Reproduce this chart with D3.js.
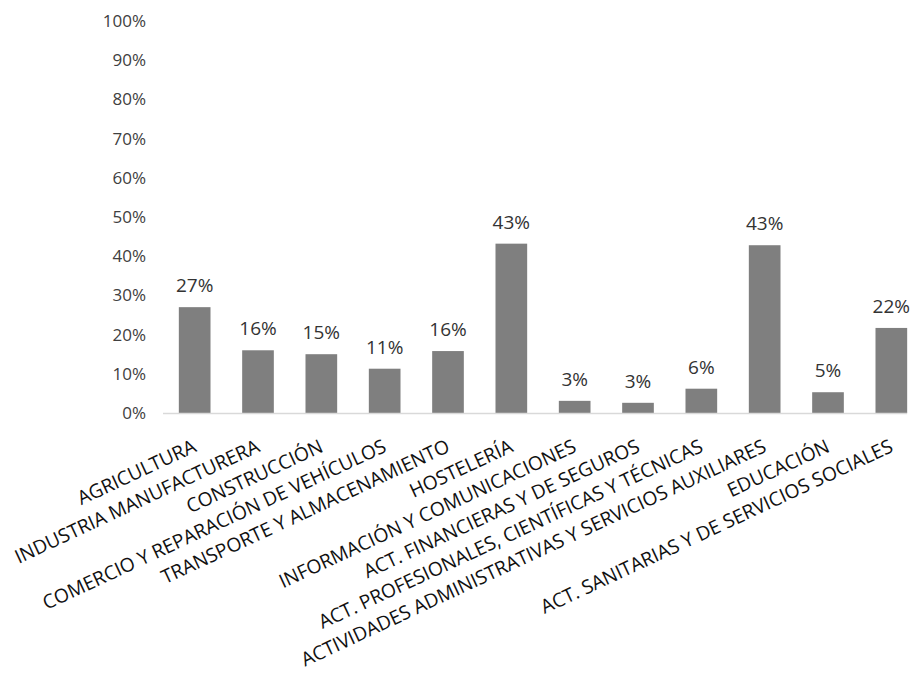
<!DOCTYPE html>
<html lang="es">
<head>
    <meta charset="utf-8"/>
    <title>Sectores</title>
    <script src="https://d3js.org/d3.v7.min.js"></script>
    <style>
        body { margin: 0; background: #fff; }
        text { font-family: 'Open Sans', sans-serif; }
    </style>
</head>
<body>
<script>

    var sectores = ['AGRICULTURA', 'INDUSTRIA MANUFACTURERA', 'CONSTRUCCIÓN',
                    'COMERCIO Y REPARACIÓN DE VEHÍCULOS', 'TRANSPORTE Y ALMACENAMIENTO',
                    'HOSTELERÍA', 'INFORMACIÓN Y COMUNICACIONES', 'ACT. FINANCIERAS Y DE SEGUROS',
                    'ACT. PROFESIONALES, CIENTÍFICAS Y TÉCNICAS',
                    'ACTIVIDADES ADMINISTRATIVAS Y SERVICIOS AUXILIARES',
                    'EDUCACIÓN', 'ACT. SANITARIAS Y DE SERVICIOS SOCIALES'];
    var valores = [0.27, 0.16, 0.15, 0.113, 0.158, 0.432, 0.031, 0.026, 0.062, 0.428, 0.053, 0.217];
    var yTicks = [0, 0.1, 0.2, 0.3, 0.4, 0.5, 0.6, 0.7, 0.8, 0.9, 1];

    var width = 914;
    var height = 677;

    var svg = d3.select('body')
                .append('svg')
                .attr('width', width)
                .attr('height', height);

    var x = d3.scaleBand()
              .domain(sectores)
              .range([163, 923])
              .paddingInner(0.5)
              .paddingOuter(0.25);

    var y = d3.scaleLinear()
              .domain([0, 1])
              .range([413, 21]);

    var pct = d3.format('.0%');
    var xEnd = x(sectores[sectores.length - 1]) + x.bandwidth();

    // eje y, solo etiquetas
    var yAxis = svg.append('g')
                   .attr('transform', 'translate(146,0)')
                   .call(d3.axisLeft(y).tickValues(yTicks).tickFormat(pct).tickSize(0).tickPadding(0));
    yAxis.select('.domain').remove();
    yAxis.selectAll('text')
         .attr('font-size', '17px')
         .attr('fill', '#404040')
         .style('font-family', "'Open Sans', sans-serif");

    // barras
    svg.append('g')
       .selectAll('rect')
       .data(valores)
       .enter()
       .append('rect')
       .attr('x', function(d, i) { return x(sectores[i]); })
       .attr('width', x.bandwidth())
       .attr('y', function(d) { return y(d); })
       .attr('height', function(d) { return y(0) - y(d); })
       .attr('fill', '#7f7f7f');

    // eje x
    svg.append('line')
       .attr('x1', 163).attr('x2', xEnd)
       .attr('y1', y(0) + 0.5).attr('y2', y(0) + 0.5)
       .attr('stroke', '#d9d9d9')
       .attr('stroke-width', 1.5);

    // etiquetas de datos
    svg.append('g')
       .selectAll('text')
       .data(valores)
       .enter()
       .append('text')
       .attr('x', function(d, i) { return x(sectores[i]) + x.bandwidth() / 2; })
       .attr('y', function(d) { return y(d) - 15; })
       .attr('text-anchor', 'middle')
       .attr('font-size', '19px')
       .attr('fill', '#333')
       .text(function(d) { return pct(d); });

    // categorias giradas
    svg.append('g')
       .selectAll('text')
       .data(sectores)
       .enter()
       .append('text')
       .attr('transform', function(d) {
            return 'translate(' + (x(d) + x.bandwidth() / 2 + 3) + ',451) rotate(-25)';
       })
       .attr('text-anchor', 'end')
       .attr('font-size', '19.3px')
       .attr('fill', '#111')
       .text(function(d) { return d; });

</script>
</body>
</html>
